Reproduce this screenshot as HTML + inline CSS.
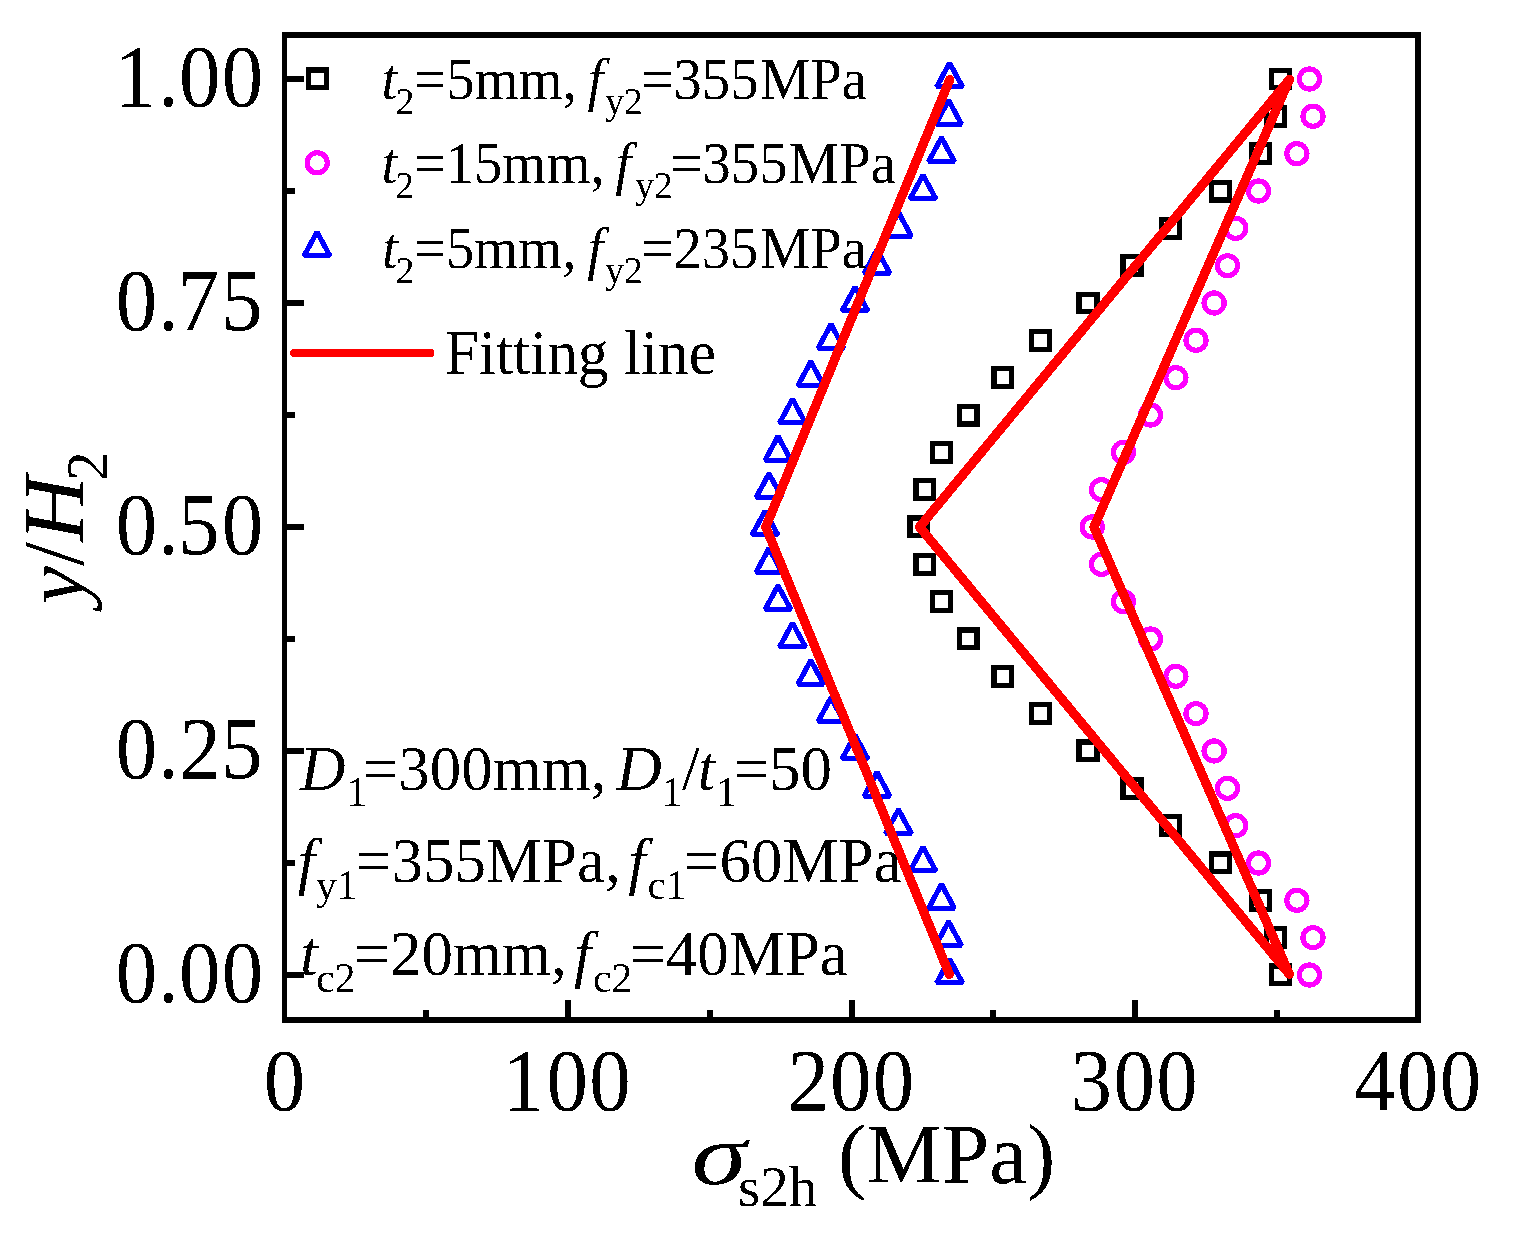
<!DOCTYPE html><html><head><meta charset="utf-8"><title>chart</title><style>html,body{margin:0;padding:0;background:#fff;}svg{display:block;}</style></head><body><svg width="1513" height="1244" viewBox="0 0 1513 1244" shape-rendering="crispEdges">
<rect width="1513" height="1244" fill="#fff"/>
<defs><filter id="bin" x="0" y="0" width="1513" height="1244" filterUnits="userSpaceOnUse"><feComponentTransfer><feFuncA type="discrete" tableValues="0 1"/></feComponentTransfer></filter></defs>
<g fill="none" stroke="#000" stroke-width="5.2" stroke-linejoin="miter">
<rect x="1271.50" y="70.10" width="17.8" height="17.8"/>
<rect x="1266.60" y="107.43" width="17.8" height="17.8"/>
<rect x="1251.80" y="144.77" width="17.8" height="17.8"/>
<rect x="1211.70" y="182.10" width="17.8" height="17.8"/>
<rect x="1161.60" y="219.43" width="17.8" height="17.8"/>
<rect x="1123.10" y="256.77" width="17.8" height="17.8"/>
<rect x="1079.10" y="294.10" width="17.8" height="17.8"/>
<rect x="1031.70" y="331.43" width="17.8" height="17.8"/>
<rect x="994.10" y="368.77" width="17.8" height="17.8"/>
<rect x="959.30" y="406.10" width="17.8" height="17.8"/>
<rect x="932.60" y="443.43" width="17.8" height="17.8"/>
<rect x="916.00" y="480.77" width="17.8" height="17.8"/>
<rect x="910.10" y="518.10" width="17.8" height="17.8"/>
<rect x="916.00" y="555.43" width="17.8" height="17.8"/>
<rect x="932.60" y="592.77" width="17.8" height="17.8"/>
<rect x="959.30" y="630.10" width="17.8" height="17.8"/>
<rect x="994.10" y="667.43" width="17.8" height="17.8"/>
<rect x="1031.70" y="704.77" width="17.8" height="17.8"/>
<rect x="1079.10" y="742.10" width="17.8" height="17.8"/>
<rect x="1123.10" y="779.43" width="17.8" height="17.8"/>
<rect x="1161.60" y="816.77" width="17.8" height="17.8"/>
<rect x="1211.70" y="854.10" width="17.8" height="17.8"/>
<rect x="1251.80" y="891.43" width="17.8" height="17.8"/>
<rect x="1266.60" y="928.77" width="17.8" height="17.8"/>
<rect x="1271.50" y="966.10" width="17.8" height="17.8"/>
</g>
<g fill="none" stroke="#f0f" stroke-width="5.2">
<circle cx="1309.40" cy="79.00" r="10.05"/>
<circle cx="1313.00" cy="116.33" r="10.05"/>
<circle cx="1296.90" cy="153.67" r="10.05"/>
<circle cx="1258.50" cy="191.00" r="10.05"/>
<circle cx="1235.80" cy="228.33" r="10.05"/>
<circle cx="1227.50" cy="265.67" r="10.05"/>
<circle cx="1214.10" cy="303.00" r="10.05"/>
<circle cx="1196.00" cy="340.33" r="10.05"/>
<circle cx="1175.90" cy="377.67" r="10.05"/>
<circle cx="1150.50" cy="415.00" r="10.05"/>
<circle cx="1123.50" cy="452.33" r="10.05"/>
<circle cx="1101.50" cy="489.67" r="10.05"/>
<circle cx="1092.30" cy="527.00" r="10.05"/>
<circle cx="1101.50" cy="564.33" r="10.05"/>
<circle cx="1123.50" cy="601.67" r="10.05"/>
<circle cx="1150.50" cy="639.00" r="10.05"/>
<circle cx="1175.90" cy="676.33" r="10.05"/>
<circle cx="1196.00" cy="713.67" r="10.05"/>
<circle cx="1214.10" cy="751.00" r="10.05"/>
<circle cx="1227.50" cy="788.33" r="10.05"/>
<circle cx="1235.80" cy="825.67" r="10.05"/>
<circle cx="1258.50" cy="863.00" r="10.05"/>
<circle cx="1296.90" cy="900.33" r="10.05"/>
<circle cx="1313.00" cy="937.67" r="10.05"/>
<circle cx="1309.40" cy="975.00" r="10.05"/>
</g>
<g fill="none" stroke="#00f" stroke-width="5.2" stroke-linejoin="bevel">
<path d="M949.60 63.00L962.50 86.85L936.70 86.85Z"/>
<path d="M948.60 100.33L961.50 124.18L935.70 124.18Z"/>
<path d="M941.50 137.67L954.40 161.52L928.60 161.52Z"/>
<path d="M923.00 175.00L935.90 198.85L910.10 198.85Z"/>
<path d="M898.50 212.33L911.40 236.18L885.60 236.18Z"/>
<path d="M877.00 249.67L889.90 273.52L864.10 273.52Z"/>
<path d="M855.00 287.00L867.90 310.85L842.10 310.85Z"/>
<path d="M831.00 324.33L843.90 348.18L818.10 348.18Z"/>
<path d="M810.80 361.67L823.70 385.52L797.90 385.52Z"/>
<path d="M792.50 399.00L805.40 422.85L779.60 422.85Z"/>
<path d="M778.00 436.33L790.90 460.18L765.10 460.18Z"/>
<path d="M769.00 473.67L781.90 497.52L756.10 497.52Z"/>
<path d="M765.00 511.00L777.90 534.85L752.10 534.85Z"/>
<path d="M769.00 548.33L781.90 572.18L756.10 572.18Z"/>
<path d="M778.00 585.67L790.90 609.52L765.10 609.52Z"/>
<path d="M792.50 623.00L805.40 646.85L779.60 646.85Z"/>
<path d="M810.80 660.33L823.70 684.18L797.90 684.18Z"/>
<path d="M831.00 697.67L843.90 721.52L818.10 721.52Z"/>
<path d="M855.00 735.00L867.90 758.85L842.10 758.85Z"/>
<path d="M877.00 772.33L889.90 796.18L864.10 796.18Z"/>
<path d="M898.50 809.67L911.40 833.52L885.60 833.52Z"/>
<path d="M923.00 847.00L935.90 870.85L910.10 870.85Z"/>
<path d="M941.50 884.33L954.40 908.18L928.60 908.18Z"/>
<path d="M948.60 921.67L961.50 945.52L935.70 945.52Z"/>
<path d="M949.60 959.00L962.50 982.85L936.70 982.85Z"/>
</g>
<g fill="none" stroke="#f00" stroke-width="9.3" stroke-linejoin="round" stroke-linecap="round">
<polyline points="949.8,79.5 765.8,527 949.4,974.4"/>
<polyline points="1289.4,79.5 919.6,527 1289.4,974.3"/>
<polyline points="1289.4,79.5 1094,527 1289.4,974.3"/>
</g>
<g stroke="#000" fill="none">
<line x1="284.5" y1="32" x2="284.5" y2="1023" stroke-width="5"/>
<line x1="1418" y1="32" x2="1418" y2="1023" stroke-width="6"/>
<line x1="282" y1="35" x2="1421" y2="35" stroke-width="6"/>
<line x1="282" y1="1020" x2="1421" y2="1020" stroke-width="6"/>
<line x1="426.25" y1="1018" x2="426.25" y2="1010" stroke-width="6"/>
<line x1="568.00" y1="1018" x2="568.00" y2="1000" stroke-width="6"/>
<line x1="709.75" y1="1018" x2="709.75" y2="1010" stroke-width="6"/>
<line x1="851.50" y1="1018" x2="851.50" y2="1000" stroke-width="6"/>
<line x1="993.25" y1="1018" x2="993.25" y2="1010" stroke-width="6"/>
<line x1="1135.00" y1="1018" x2="1135.00" y2="1000" stroke-width="6"/>
<line x1="1276.75" y1="1018" x2="1276.75" y2="1010" stroke-width="6"/>
<line x1="286" y1="975.00" x2="304" y2="975.00" stroke-width="6"/>
<line x1="286" y1="863.00" x2="295" y2="863.00" stroke-width="6"/>
<line x1="286" y1="751.00" x2="304" y2="751.00" stroke-width="6"/>
<line x1="286" y1="639.00" x2="295" y2="639.00" stroke-width="6"/>
<line x1="286" y1="527.00" x2="304" y2="527.00" stroke-width="6"/>
<line x1="286" y1="415.00" x2="295" y2="415.00" stroke-width="6"/>
<line x1="286" y1="303.00" x2="304" y2="303.00" stroke-width="6"/>
<line x1="286" y1="191.00" x2="295" y2="191.00" stroke-width="6"/>
<line x1="286" y1="79.00" x2="304" y2="79.00" stroke-width="6"/>
</g>
<g filter="url(#bin)">
<text font-family="'Liberation Serif','Times New Roman',serif" font-size="88.2" transform="scale(0.94 1)"><tspan x="280.61" y="1110.00">0</tspan></text>
<text font-family="'Liberation Serif','Times New Roman',serif" font-size="88.2" transform="scale(0.94 1)"><tspan x="534.70" y="1110.00">1</tspan><tspan x="581.35" y="1110.00">0</tspan><tspan x="626.78" y="1110.00">0</tspan></text>
<text font-family="'Liberation Serif','Times New Roman',serif" font-size="88.2" transform="scale(0.94 1)"><tspan x="838.02" y="1110.00">2</tspan><tspan x="882.95" y="1110.00">0</tspan><tspan x="928.38" y="1110.00">0</tspan></text>
<text font-family="'Liberation Serif','Times New Roman',serif" font-size="88.2" transform="scale(0.94 1)"><tspan x="1138.73" y="1110.00">3</tspan><tspan x="1184.55" y="1110.00">0</tspan><tspan x="1229.97" y="1110.00">0</tspan></text>
<text font-family="'Liberation Serif','Times New Roman',serif" font-size="88.2" transform="scale(0.94 1)"><tspan x="1440.54" y="1110.00">4</tspan><tspan x="1486.14" y="1110.00">0</tspan><tspan x="1531.57" y="1110.00">0</tspan></text>
<text font-family="'Liberation Serif','Times New Roman',serif" font-size="88.2" transform="scale(0.94 1)"><tspan x="123.16" y="1001.60">0</tspan><tspan x="168.12" y="1001.60">.</tspan><tspan x="190.34" y="1001.60">0</tspan><tspan x="235.98" y="1001.60">0</tspan></text>
<text font-family="'Liberation Serif','Times New Roman',serif" font-size="88.2" transform="scale(0.94 1)"><tspan x="123.16" y="777.60">0</tspan><tspan x="168.12" y="777.60">.</tspan><tspan x="190.84" y="777.60">2</tspan><tspan x="235.14" y="777.60">5</tspan></text>
<text font-family="'Liberation Serif','Times New Roman',serif" font-size="88.2" transform="scale(0.94 1)"><tspan x="123.16" y="553.60">0</tspan><tspan x="168.12" y="553.60">.</tspan><tspan x="189.50" y="553.60">5</tspan><tspan x="235.98" y="553.60">0</tspan></text>
<text font-family="'Liberation Serif','Times New Roman',serif" font-size="88.2" transform="scale(0.94 1)"><tspan x="123.16" y="329.60">0</tspan><tspan x="168.12" y="329.60">.</tspan><tspan x="188.71" y="329.60">7</tspan><tspan x="235.14" y="329.60">5</tspan></text>
<text font-family="'Liberation Serif','Times New Roman',serif" font-size="88.2" transform="scale(0.94 1)"><tspan x="121.94" y="105.60">1</tspan><tspan x="168.12" y="105.60">.</tspan><tspan x="190.34" y="105.60">0</tspan><tspan x="235.98" y="105.60">0</tspan></text>
<g font-family="'Liberation Serif','Times New Roman',serif" font-size="86" transform="translate(83,605) rotate(-90)"><text x="0.5" y="0" font-style="italic">y</text><text x="39.1" y="0">/</text><text x="59.72" y="0" font-style="italic" transform="scale(1.06 1)">H</text><text x="124.2" y="24" font-size="59">2</text></g>
<text font-family="'Liberation Serif','Times New Roman',serif" font-size="86" font-style="italic" transform="translate(691.5,1183.8) scale(1.3,1.02)">σ</text>
<text font-family="'Liberation Serif','Times New Roman',serif" font-size="57" x="738" y="1206.4">s2h</text>
<text font-family="'Liberation Serif','Times New Roman',serif" font-size="85" x="838" y="1182.7">(MPa)</text>
<text font-family="'Liberation Serif','Times New Roman',serif" xml:space="preserve" transform="scale(0.965 1)"><tspan x="395.45" y="98.90" font-size="58.7" font-style="italic">t</tspan><tspan x="410.00" y="113.90" font-size="38.8">2</tspan><tspan x="429.30" y="98.90" font-size="58.7">=5mm,</tspan><tspan x="608.76" y="98.90" font-size="58.7" font-style="italic">f</tspan><tspan x="627.30" y="113.90" font-size="38.8">y2</tspan><tspan x="664.85" y="98.90" font-size="58.7">=355</tspan><tspan x="787.53" y="98.90" font-size="58.7">MPa</tspan></text>
<text font-family="'Liberation Serif','Times New Roman',serif" xml:space="preserve" transform="scale(0.965 1)"><tspan x="395.24" y="182.90" font-size="58.7" font-style="italic">t</tspan><tspan x="409.49" y="197.90" font-size="38.8">2</tspan><tspan x="428.79" y="182.90" font-size="58.7">=15mm,</tspan><tspan x="637.67" y="182.90" font-size="58.7" font-style="italic">f</tspan><tspan x="658.28" y="197.90" font-size="38.8">y2</tspan><tspan x="694.90" y="182.90" font-size="58.7">=355</tspan><tspan x="817.38" y="182.90" font-size="58.7">MPa</tspan></text>
<text font-family="'Liberation Serif','Times New Roman',serif" xml:space="preserve" transform="scale(0.965 1)"><tspan x="395.76" y="268.10" font-size="58.7" font-style="italic">t</tspan><tspan x="410.00" y="283.10" font-size="38.8">2</tspan><tspan x="428.99" y="268.10" font-size="58.7">=5mm,</tspan><tspan x="608.44" y="268.10" font-size="58.7" font-style="italic">f</tspan><tspan x="627.30" y="283.10" font-size="38.8">y2</tspan><tspan x="664.74" y="268.10" font-size="58.7">=235</tspan><tspan x="787.53" y="268.10" font-size="58.7">MPa</tspan></text>
<text font-family="'Liberation Serif','Times New Roman',serif" xml:space="preserve" transform="scale(0.97 1)"><tspan x="458.59" y="373.90" font-size="63.3">Fitting line</tspan></text>
<g fill="none" stroke-width="5.2">
<g stroke="#000" stroke-linejoin="miter"><rect x="308.60" y="70.00" width="17.8" height="17.8"/></g>
<g stroke="#f0f"><circle cx="317.20" cy="162.80" r="10.05"/></g>
<g stroke="#00f" stroke-linejoin="bevel"><path d="M317.00 232.00L329.90 255.85L304.10 255.85Z"/></g>
</g>
<line x1="294" y1="353" x2="430.5" y2="353" stroke="#f00" stroke-width="8" stroke-linecap="round"/>
<text font-family="'Liberation Serif','Times New Roman',serif" xml:space="preserve"><tspan x="300.01" y="789.60" font-size="63" font-style="italic">D</tspan><tspan x="346.45" y="806.40" font-size="41.5">1</tspan><tspan x="362.76" y="789.60" font-size="63">=300mm,</tspan><tspan x="616.21" y="789.60" font-size="63" font-style="italic">D</tspan><tspan x="661.85" y="806.40" font-size="41.5">1</tspan><tspan x="682.00" y="789.60" font-size="63">/</tspan><tspan x="697.83" y="789.60" font-size="63" font-style="italic">t</tspan><tspan x="716.35" y="806.40" font-size="41.5">1</tspan><tspan x="733.56" y="789.60" font-size="63">=50</tspan></text>
<text font-family="'Liberation Serif','Times New Roman',serif" xml:space="preserve"><tspan x="297.76" y="881.80" font-size="63" font-style="italic">f</tspan><tspan x="315.99" y="898.60" font-size="41.5">y1</tspan><tspan x="355.86" y="881.80" font-size="63">=355MPa,</tspan><tspan x="628.26" y="881.80" font-size="63" font-style="italic">f</tspan><tspan x="647.42" y="898.60" font-size="41.5">c1</tspan><tspan x="684.06" y="881.80" font-size="63">=60MPa</tspan></text>
<text font-family="'Liberation Serif','Times New Roman',serif" xml:space="preserve"><tspan x="300.23" y="975.30" font-size="63" font-style="italic">t</tspan><tspan x="316.22" y="992.10" font-size="41.5">c2</tspan><tspan x="354.36" y="975.30" font-size="63">=20mm,</tspan><tspan x="574.06" y="975.30" font-size="63" font-style="italic">f</tspan><tspan x="593.12" y="992.10" font-size="41.5">c2</tspan><tspan x="630.26" y="975.30" font-size="63">=40MPa</tspan></text>
</g>
</svg></body></html>
